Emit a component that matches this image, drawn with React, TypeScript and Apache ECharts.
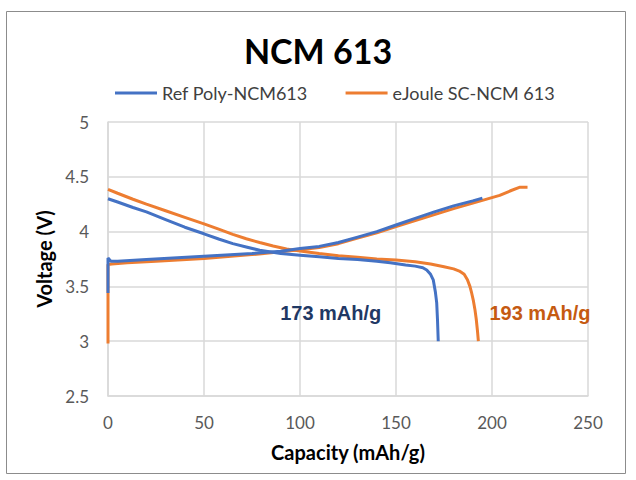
import { useEffect, useRef } from "react";
import * as echarts from "echarts";

const BLUE = "#4472c4";
const ORANGE = "#ed7d31";
const GRID = "#d9d9d9";
const TICK = "#595959";
const FONT = "Lato, 'Open Sans', sans-serif";

const REF_NAME = "Ref Poly-NCM613";
const EJ_NAME = "eJoule SC-NCM 613";

// Ref Poly-NCM613, discharge (mAh/g, V)
const refDisX = [0, 5, 13, 20, 30, 40, 50, 58, 65, 72, 79, 90, 100, 110, 120, 130, 140, 147, 155, 160, 164, 166, 168, 169.4, 170.5, 171.2, 171.6, 172];
const refDisY = [4.3, 4.27, 4.22, 4.18, 4.11, 4.04, 3.98, 3.93, 3.89, 3.86, 3.83, 3.8, 3.785, 3.77, 3.755, 3.745, 3.73, 3.715, 3.695, 3.685, 3.67, 3.65, 3.61, 3.56, 3.45, 3.35, 3.2, 3.0];
// Ref Poly-NCM613, charge
const refChgX = [0, 0, 1.5, 5, 20, 50, 75, 90, 100, 110, 120, 130, 140, 150, 160, 170, 180, 190, 195];
const refChgY = [3.44, 3.76, 3.73, 3.73, 3.745, 3.775, 3.8, 3.82, 3.845, 3.865, 3.9, 3.95, 4.0, 4.06, 4.12, 4.18, 4.235, 4.28, 4.305];
// eJoule SC-NCM 613, discharge
const ejDisX = [0, 5, 13, 20, 30, 40, 50, 58, 65, 72, 79, 86, 93, 100, 110, 120, 130, 140, 150, 160, 168, 175, 180, 183, 185.5, 187.2, 188.5, 189.4, 190.3, 191.1, 191.8, 192.4, 192.9];
const ejDisY = [4.386, 4.35, 4.295, 4.25, 4.19, 4.13, 4.07, 4.02, 3.975, 3.935, 3.9, 3.868, 3.842, 3.822, 3.8, 3.78, 3.765, 3.75, 3.74, 3.725, 3.705, 3.68, 3.66, 3.64, 3.61, 3.56, 3.5, 3.44, 3.37, 3.29, 3.2, 3.1, 3.0];
// eJoule SC-NCM 613, charge
const ejChgX = [0, 0, 2, 10, 25, 50, 75, 90, 100, 110, 120, 130, 140, 150, 160, 170, 180, 190, 195, 204, 210, 214.6, 218.5];
const ejChgY = [2.98, 3.7, 3.705, 3.715, 3.73, 3.755, 3.79, 3.815, 3.835, 3.855, 3.89, 3.94, 3.99, 4.045, 4.1, 4.155, 4.21, 4.26, 4.285, 4.33, 4.375, 4.405, 4.405];

// capacity annotations: text, anchor (x, V), colour
const noteText = ["173 mAh/g", "193 mAh/g"];
const noteX = [116, 225];
const noteY = [3.257, 3.257];
const noteColor = ["#1f3864", "#c55a11"];

const pairs = (xs: number[], ys: number[]) => xs.map((x, i) => [x, ys[i]]);

export default function App() {
  const elRef = useRef<HTMLDivElement>(null);

  useEffect(() => {
    const el = elRef.current;
    if (!el) return;
    const chart = echarts.init(el, null, { renderer: "svg" });

    const line = (name: string, color: string, data: number[][], z: number) => ({
      name,
      type: "line" as const,
      data,
      showSymbol: false,
      symbol: "none",
      smooth: false,
      z,
      lineStyle: { width: 3, color },
      itemStyle: { color },
    });

    chart.setOption({
      animation: false,
      backgroundColor: "#fff",
      title: {
        text: "NCM 613",
        left: "center",
        top: 28,
        textStyle: { fontFamily: FONT, fontSize: 34, fontWeight: "bold", color: "#000" },
      },
      legend: {
        data: [
          { name: REF_NAME, icon: "rect" },
          { name: EJ_NAME, icon: "rect" },
        ],
        top: 79,
        left: 110,
        itemWidth: 42,
        itemHeight: 3,
        itemGap: 38,
        textStyle: { fontFamily: FONT, fontSize: 18, color: "#404040" },
      },
      grid: { left: 108, right: 48, top: 122, bottom: 84 },
      xAxis: {
        type: "value",
        min: 0,
        max: 250,
        interval: 50,
        name: "Capacity (mAh/g)",
        nameLocation: "middle",
        nameGap: 46,
        nameTextStyle: { fontFamily: FONT, fontSize: 20, fontWeight: "bold", color: "#000" },
        axisLine: { show: true, lineStyle: { color: GRID, width: 1.5 } },
        axisTick: { show: false },
        axisLabel: { fontFamily: FONT, fontSize: 17, color: TICK, margin: 18 },
        splitLine: { show: true, lineStyle: { color: GRID, width: 1.5 } },
      },
      yAxis: {
        type: "value",
        min: 2.5,
        max: 5,
        interval: 0.5,
        name: "Voltage (V)",
        nameLocation: "middle",
        nameRotate: 90,
        nameGap: 52,
        nameTextStyle: { fontFamily: FONT, fontSize: 20, fontWeight: "bold", color: "#000" },
        axisLine: { show: true, lineStyle: { color: GRID, width: 1.5 } },
        axisTick: { show: false },
        axisLabel: { fontFamily: FONT, fontSize: 17, color: TICK, margin: 19 },
        splitLine: { show: true, lineStyle: { color: GRID, width: 1.5 } },
      },
      series: [
        line(EJ_NAME, ORANGE, pairs(ejDisX, ejDisY), 2),
        line(EJ_NAME, ORANGE, pairs(ejChgX, ejChgY), 2),
        line(REF_NAME, BLUE, pairs(refDisX, refDisY), 3),
        line(REF_NAME, BLUE, pairs(refChgX, refChgY), 3),
        {
          name: "notes",
          type: "scatter",
          silent: true,
          symbolSize: 0,
          z: 4,
          itemStyle: { opacity: 1 },
          data: noteText.map((t, i) => ({
            name: t,
            value: [noteX[i], noteY[i]],
            label: { color: noteColor[i] },
          })),
          label: {
            show: true,
            position: "inside",
            formatter: "{b}",
            opacity: 1,
            fontFamily: "'Liberation Sans', Arial, sans-serif",
            fontWeight: "bold",
            fontSize: 20,
          },
        },
      ],
      graphic: [
        {
          type: "rect",
          shape: { x: 6.5, y: 11.5, width: 619, height: 462 },
          style: { fill: "none", stroke: "#8c8c8c", lineWidth: 1 },
          silent: true,
        },
      ],
    });

    return () => chart.dispose();
  }, []);

  return (
    <div
      ref={elRef}
      style={{ position: "fixed", left: 0, top: 0, width: 636, height: 480, background: "#fff" }}
    />
  );
}
